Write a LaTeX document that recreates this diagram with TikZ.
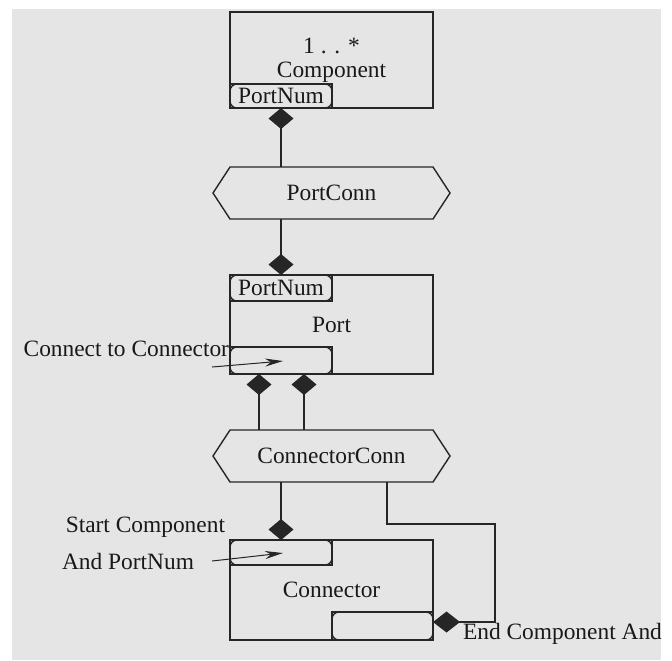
\documentclass[tikz,border=0pt]{standalone}
\usepackage{fontspec}
\setmainfont{Liberation Serif}
\usetikzlibrary{arrows.meta}

% little rounded marks in the corners of a port slot
\newcommand{\cornermarks}[1]{\draw[rounded corners=3.5pt] (#1.south west) rectangle (#1.north east);}
% six sided frame round a connection node
\newcommand{\hexframe}[1]{\draw ([xshift=-8.5pt]#1.west) -- (#1.north west) -- (#1.north east) -- ([xshift=8.5pt]#1.east) -- (#1.south east) -- (#1.south west) -- cycle;}

\begin{document}
\begin{tikzpicture}[x=0.5pt, y=-0.5pt, line width=0.7pt, draw=black!85,
    every node/.style={font=\rmfamily\fontsize{11.7}{12}\selectfont, text=black!90, inner sep=0pt, outer sep=0pt},
    box/.style={draw, minimum width=101.5pt, align=center},
    slot/.style={draw, minimum width=51pt},
    conn/.style={minimum width=101.5pt, minimum height=26pt},
    tie/.style={-{Diamond[length=10.5pt,width=12.5pt]}},
    pointer/.style={line width=0.5pt, -{Stealth[length=9pt,width=4pt]}}]

    \useasboundingbox (0,0) rectangle (672,660);
    \fill[gray!20] (12,9) rectangle (661,660);

    % Draw nodes
    \node[box, minimum height=48pt] (comp) at (331.5,60) {1 . . *\\Component};
    \node[slot, minimum height=12pt] (cpnum) at (281,96) {PortNum};
    \node[conn] (pconn) at (331.5,193) {PortConn};
    \node[box, minimum height=49.5pt] (port) at (331.5,324.5) {Port};
    \node[slot, minimum height=13pt] (ppnum) at (281,288) {PortNum};
    \node[slot, minimum height=13.5pt] (pconc) at (281,360.5) {};
    \node[conn] (ccon) at (331.5,456) {ConnectorConn};
    \node[box, minimum height=50pt] (connr) at (331.5,590) {Connector};
    \node[slot, minimum height=12.5pt] (cstart) at (281,552.5) {};
    \node[slot, minimum width=50.5pt, minimum height=14pt] (cend) at (382.5,626) {};

    \cornermarks{cpnum}
    \cornermarks{ppnum}
    \cornermarks{pconc}
    \cornermarks{cstart}
    \cornermarks{cend}
    \hexframe{pconn}
    \hexframe{ccon}

    % Labels
    \node[anchor=east] (lblconc) at (229,349) {Connect to Connector};
    \node[anchor=east] (lblstart) at (225,527) {Start Component};
    \node[anchor=west] (lblpnum) at (62,561) {And PortNum};
    \node[anchor=west] (lblend) at (463,634) {End Component And};

    % Draw connections
    \draw[tie] (pconn.north -| cpnum.south) -- (cpnum.south);
    \draw[tie] (pconn.south -| ppnum.north) -- (ppnum.north);
    \draw[tie] ([xshift=-11pt]ccon.north -| pconc.south) -- ([xshift=-11pt]pconc.south);
    \draw[tie] ([xshift=11.5pt]ccon.north -| pconc.south) -- ([xshift=11.5pt]pconc.south);
    \draw[tie, line width=1pt] (ccon.south -| cstart.north) -- (cstart.north);
    \coordinate (bend) at (495,524);
    \draw[-{Diamond[length=13.5pt,width=10.5pt]}] ([xshift=27.75pt]ccon.south) |- (bend) |- ([yshift=2pt]cend.east);

    % Arrows into the slots
    \coordinate (conctail) at (212,367);
    \coordinate (conchead) at (283,361);
    \draw[pointer] (conctail) -- (conchead);
    \coordinate (starttail) at (212,561);
    \coordinate (starthead) at (283,553);
    \draw[pointer] (starttail) -- (starthead);
\end{tikzpicture}
\end{document}
